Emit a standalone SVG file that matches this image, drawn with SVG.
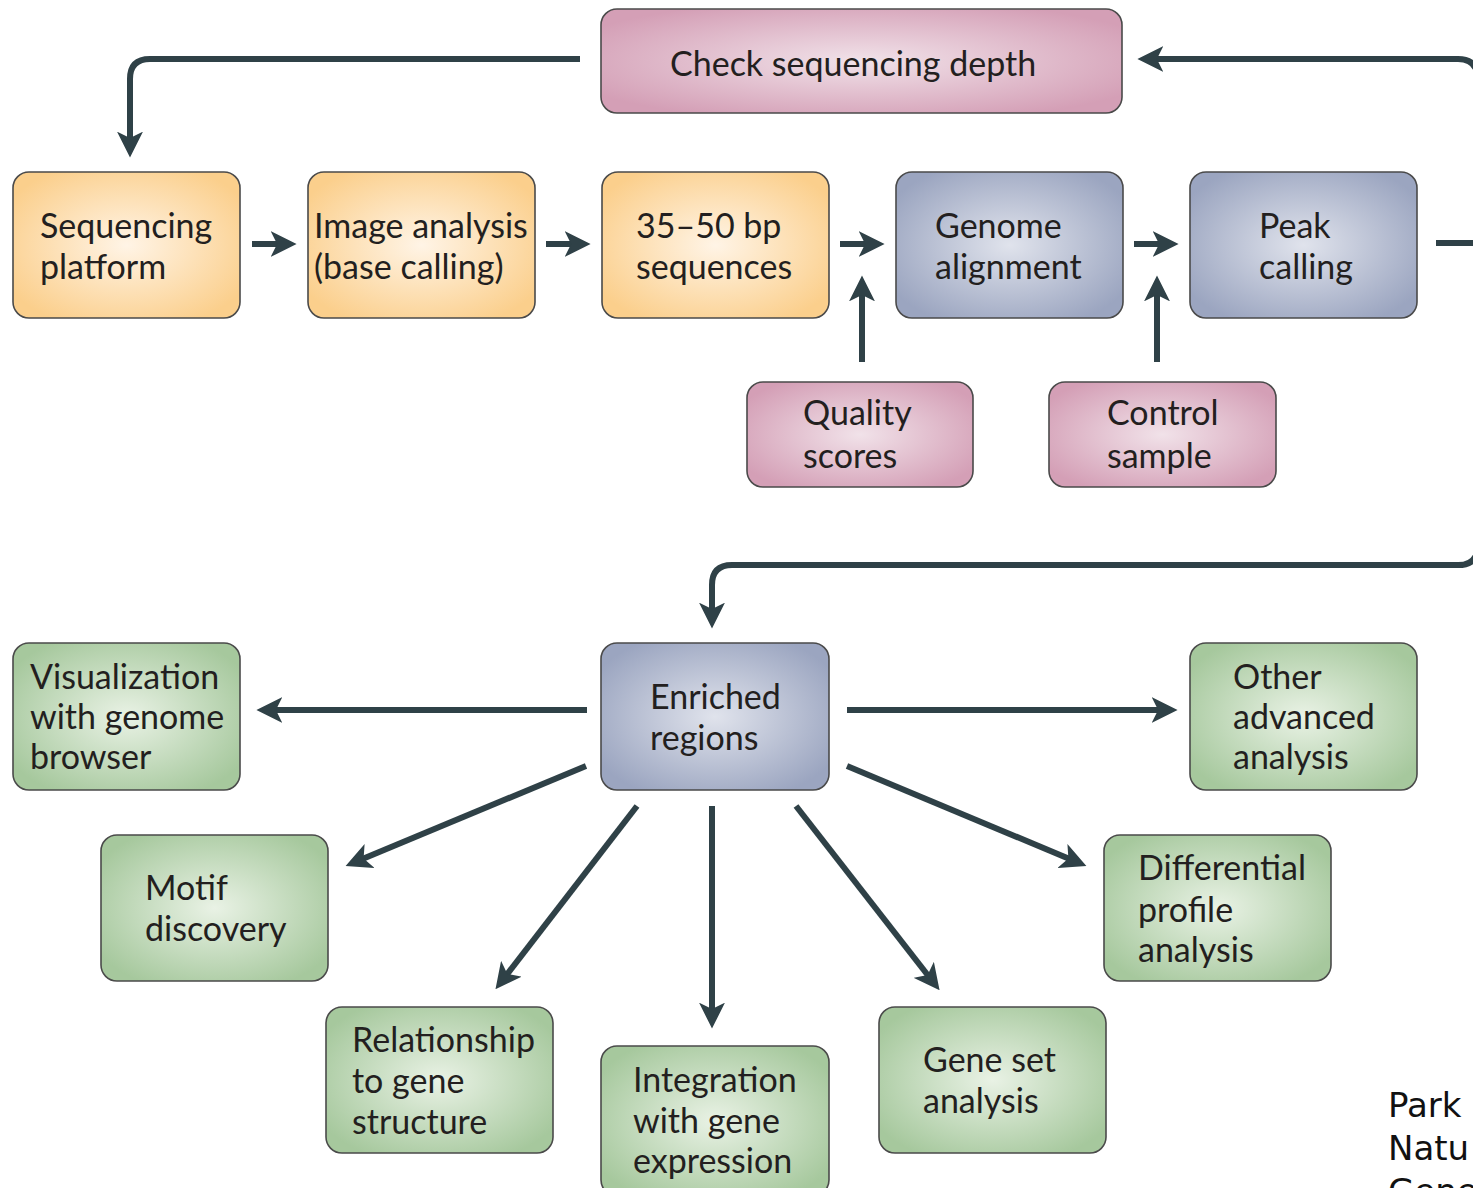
<svg xmlns="http://www.w3.org/2000/svg" width="1473" height="1188" viewBox="0 0 1473 1188">
<style>
.box{stroke:#4a4a4a;stroke-width:1.6}
.t{font-family:Lato,"Open Sans","DejaVu Sans",sans-serif;font-size:34px;fill:#231f20}
.c{fill:none;stroke:#2f4147;stroke-width:6}
.a{fill:none;stroke:#2f4147;stroke-width:6;marker-end:url(#ah)}
.cite{font-family:"DejaVu Sans","Liberation Sans",sans-serif;font-size:34px;fill:#111}
</style>
<defs>
<radialGradient id="gO" cx="50%" cy="50%" r="60%"><stop offset="0" stop-color="#fff4e6"/><stop offset="1" stop-color="#fbcf8c"/></radialGradient>
<radialGradient id="gP" cx="50%" cy="50%" r="60%"><stop offset="0" stop-color="#f1e2e9"/><stop offset="1" stop-color="#d49fb6"/></radialGradient>
<radialGradient id="gB" cx="50%" cy="50%" r="60%"><stop offset="0" stop-color="#e0e3ec"/><stop offset="1" stop-color="#9ba5c0"/></radialGradient>
<radialGradient id="gG" cx="50%" cy="50%" r="60%"><stop offset="0" stop-color="#e9f2e5"/><stop offset="1" stop-color="#a6c89d"/></radialGradient>
<marker id="ah" viewBox="0 0 20 20" markerWidth="26" markerHeight="26" markerUnits="userSpaceOnUse" refX="8" refY="10" orient="auto">
<path d="M0,0 L20,10 L0,20 L5,10 z" fill="#2f4147"/>
</marker>
</defs>
<rect width="1473" height="1188" fill="#fff"/>

<g id="connectors">
<path class="a" d="M580,59 H150 Q130,59 130,79 V142"/>
<path class="a" d="M1478,243 V80 Q1478,59 1458,59 H1153"/>
<path class="c" d="M1436,243 H1473"/>
<path class="a" d="M1478,243 V545 Q1478,565 1458,565 H732 Q712,565 712,585 V613"/>
<path class="a" d="M252,244 H281"/>
<path class="a" d="M546,244 H575"/>
<path class="a" d="M840,244 H869"/>
<path class="a" d="M1134,244 H1163"/>
<path class="a" d="M862,362 V291"/>
<path class="a" d="M1157,362 V291"/>
<path class="a" d="M587,710 H272"/>
<path class="a" d="M847,710 H1162"/>
<path class="a" d="M586,766 L360,860"/>
<path class="a" d="M637,806 L505,977"/>
<path class="a" d="M712,806 V1013"/>
<path class="a" d="M796,806 L930,978"/>
<path class="a" d="M847,766 L1072,860"/>
</g>

<g id="check-depth"><rect class="box" x="601" y="9" width="521" height="104" rx="16" fill="url(#gP)"/>
<text class="t" x="670" y="76">Check sequencing depth</text></g>

<g id="sequencing-platform"><rect class="box" x="13" y="172" width="227" height="146" rx="16" fill="url(#gO)"/>
<text class="t" x="40" y="238">Sequencing</text><text class="t" x="40" y="279">platform</text></g>

<g id="image-analysis"><rect class="box" x="308" y="172" width="227" height="146" rx="16" fill="url(#gO)"/>
<text class="t" x="314" y="238">Image analysis</text><text class="t" x="314" y="279">(base calling)</text></g>

<g id="sequences"><rect class="box" x="602" y="172" width="227" height="146" rx="16" fill="url(#gO)"/>
<text class="t" x="636" y="238">35–50 bp</text><text class="t" x="636" y="279">sequences</text></g>

<g id="genome-alignment"><rect class="box" x="896" y="172" width="227" height="146" rx="16" fill="url(#gB)"/>
<text class="t" x="935" y="238">Genome</text><text class="t" x="935" y="279">alignment</text></g>

<g id="peak-calling"><rect class="box" x="1190" y="172" width="227" height="146" rx="16" fill="url(#gB)"/>
<text class="t" x="1259" y="238">Peak</text><text class="t" x="1259" y="279">calling</text></g>

<g id="quality-scores"><rect class="box" x="747" y="382" width="226" height="105" rx="16" fill="url(#gP)"/>
<text class="t" x="803" y="425">Quality</text><text class="t" x="803" y="468">scores</text></g>

<g id="control-sample"><rect class="box" x="1049" y="382" width="227" height="105" rx="16" fill="url(#gP)"/>
<text class="t" x="1107" y="425">Control</text><text class="t" x="1107" y="468">sample</text></g>

<g id="enriched-regions"><rect class="box" x="601" y="643" width="228" height="147" rx="16" fill="url(#gB)"/>
<text class="t" x="650" y="709">Enriched</text><text class="t" x="650" y="750">regions</text></g>

<g id="visualization"><rect class="box" x="13" y="643" width="227" height="147" rx="16" fill="url(#gG)"/>
<text class="t" x="30" y="689">Visualization</text><text class="t" x="30" y="729">with genome</text><text class="t" x="30" y="769">browser</text></g>

<g id="other-advanced"><rect class="box" x="1190" y="643" width="227" height="147" rx="16" fill="url(#gG)"/>
<text class="t" x="1233" y="689">Other</text><text class="t" x="1233" y="729">advanced</text><text class="t" x="1233" y="769">analysis</text></g>

<g id="motif-discovery"><rect class="box" x="101" y="835" width="227" height="146" rx="16" fill="url(#gG)"/>
<text class="t" x="145" y="900">Motif</text><text class="t" x="145" y="941">discovery</text></g>

<g id="differential-profile"><rect class="box" x="1104" y="835" width="227" height="146" rx="16" fill="url(#gG)"/>
<text class="t" x="1138" y="880">Differential</text><text class="t" x="1138" y="922">profile</text><text class="t" x="1138" y="962">analysis</text></g>

<g id="relationship"><rect class="box" x="326" y="1007" width="227" height="146" rx="16" fill="url(#gG)"/>
<text class="t" x="352" y="1052">Relationship</text><text class="t" x="352" y="1093">to gene</text><text class="t" x="352" y="1134">structure</text></g>

<g id="integration"><rect class="box" x="601" y="1046" width="228" height="150" rx="16" fill="url(#gG)"/>
<text class="t" x="633" y="1092">Integration</text><text class="t" x="633" y="1133">with gene</text><text class="t" x="633" y="1173">expression</text></g>

<g id="gene-set"><rect class="box" x="879" y="1007" width="227" height="146" rx="16" fill="url(#gG)"/>
<text class="t" x="923" y="1072">Gene set</text><text class="t" x="923" y="1113">analysis</text></g>

<g id="citation">
<text class="cite" x="1388" y="1117">Park</text>
<text class="cite" x="1388" y="1160">Natu</text>
<text class="cite" x="1388" y="1203">Gene</text>
</g>
</svg>
